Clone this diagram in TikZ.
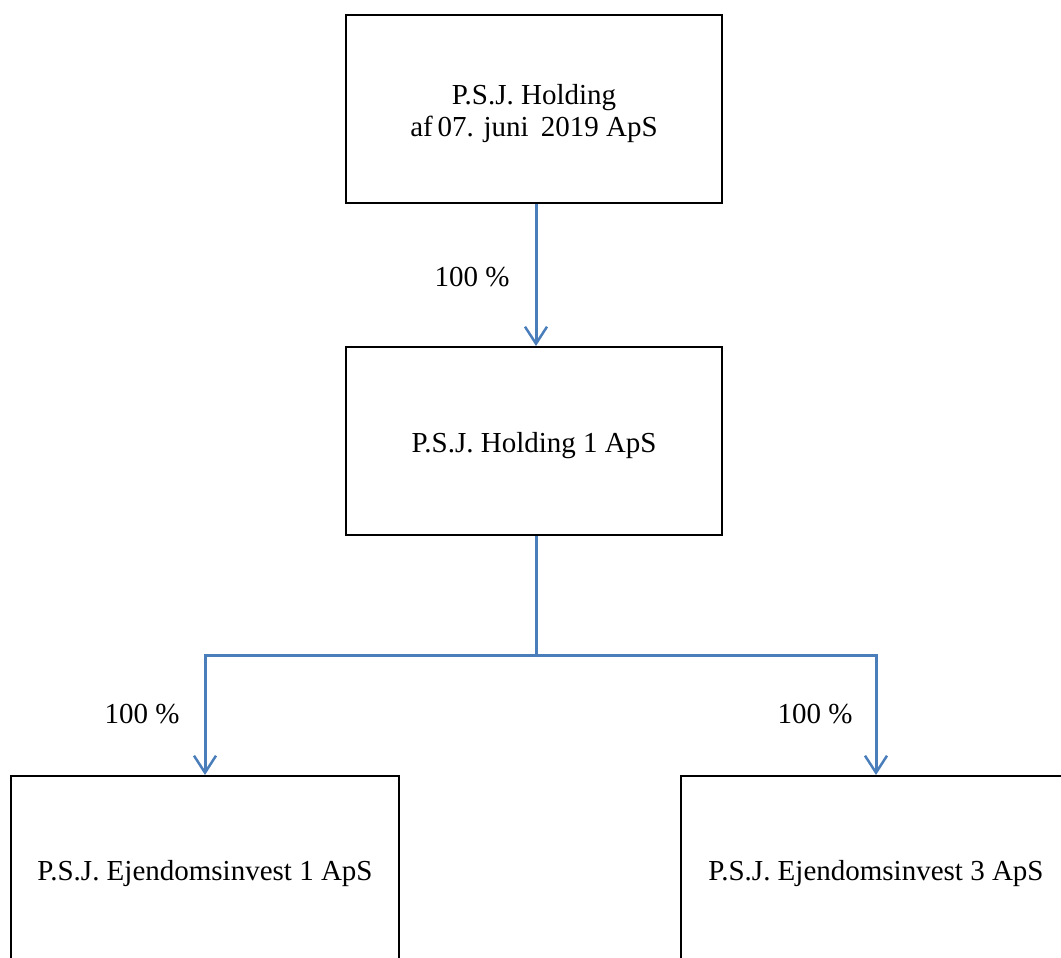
\documentclass[tikz,border=0pt]{standalone}
\usepackage{fontspec}
\setmainfont{Liberation Serif}
\usetikzlibrary{arrows.meta}
\definecolor{linkblue}{RGB}{74,126,187}
\begin{document}
\begin{tikzpicture}[x=1pt,y=-1pt,
  box/.style={draw=black, line width=2pt, rectangle, inner sep=0pt},
  boxtext/.style={font=\fontsize{29}{32}\selectfont, inner sep=0pt, align=center, yshift=-5pt},
  pct/.style={font=\fontsize{29}{32}\selectfont, inner sep=0pt},
  link/.style={draw=linkblue, line width=3pt},
  arr/.style={link, -{Straight Barb[length=17pt,width=22pt,line width=2.5pt]}}]
\useasboundingbox (0,0) rectangle (1061,958);
\clip (0,0) rectangle (1061,958);
\node[box, minimum width=376, minimum height=188,
  label={[boxtext]center:P.S.J. Holding\\af\,07. juni\, 2019 ApS}] (top) at (534,109) {};
\node[box, minimum width=376, minimum height=188,
  label={[boxtext]center:P.S.J. Holding 1 ApS}] (mid) at (534,441) {};
\node[box, minimum width=388, minimum height=260, anchor=north] (e1) at (205,775) {};
\node[pct] (e1t) at (205,874) {P.S.J. Ejendomsinvest 1 ApS};
\node[box, minimum width=388, minimum height=260, anchor=north] (e3) at (875,775) {};
\node[pct] (e3t) at (876,874) {P.S.J. Ejendomsinvest 3 ApS};
\coordinate (j) at (536,655);
\draw[arr] (top.south -| 536,0) -- (mid.north -| 536,0);
\draw[link] (mid.south -| j) -- (j);
\draw[arr] (j) -| (e1.north -| 205,0);
\draw[arr] (j) -| (e3.north -| 876,0);
\node[pct] (p1) at (472,277) {100 \%};
\node[pct] (p2) at (142,714) {100 \%};
\node[pct] (p3) at (815,714) {100 \%};
\end{tikzpicture}
\end{document}
